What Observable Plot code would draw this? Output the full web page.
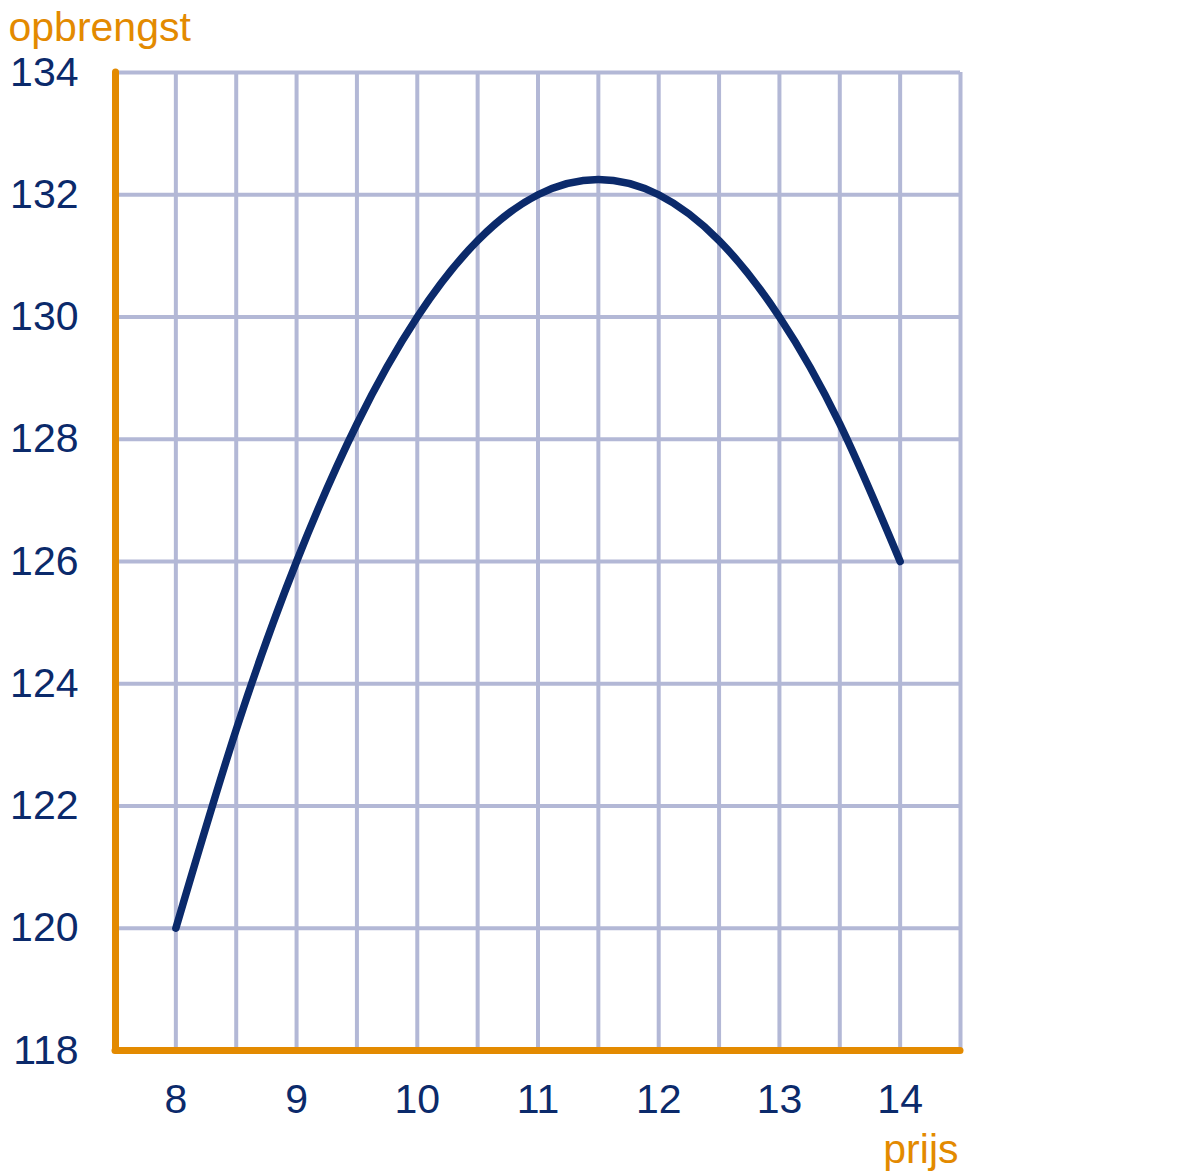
<!DOCTYPE html>
<html>
<head>
<meta charset="utf-8">
<script src="https://cdn.jsdelivr.net/npm/d3@7"></script>
<script src="https://cdn.jsdelivr.net/npm/@observablehq/plot@0.6"></script>
<style>
  html, body { margin: 0; padding: 0; background: white; }
</style>
</head>
<body>
<div id="chart"></div>
<script>
// Price (prijs) and revenue (opbrengst)
const prijs = [8, 8.5, 9, 9.5, 10, 10.5, 11, 11.5, 12, 12.5, 13, 13.5, 14];
const opbrengst = [120, 123.25, 126, 128.25, 130, 131.25, 132, 132.25, 132, 131.25, 130, 128.25, 126];
const xTicks = [8, 9, 10, 11, 12, 13, 14];
const yTicks = [118, 120, 122, 124, 126, 128, 130, 132, 134];
const xGrid = [8, 8.5, 9, 9.5, 10, 10.5, 11, 11.5, 12, 12.5, 13, 13.5, 14, 14.5];
const yGrid = [120, 122, 124, 126, 128, 130, 132, 134];
const xLabel = "prijs";
const yLabel = "opbrengst";

const data = prijs.map((p, i) => ({prijs: p, opbrengst: opbrengst[i]}));

const navy = "#0b2a6b";
const orange = "#e38a00";
const gridColor = "#b3b8d6";
const fs = 41;

const chart = Plot.plot({
  width: 1184,
  height: 1172,
  marginLeft: 115,
  marginRight: 224,
  marginTop: 72,
  marginBottom: 122,
  style: {fontFamily: "'Liberation Sans', Arial, sans-serif", fontSize: fs + "px", color: navy, background: "white", overflow: "visible"},
  x: {domain: [7.5, 14.5]},
  y: {domain: [118, 134]},
  marks: [
    Plot.ruleX(xGrid, {stroke: gridColor, strokeWidth: 4, y1: 118, y2: 134}),
    Plot.ruleY(yGrid, {stroke: gridColor, strokeWidth: 4, x1: 7.5, x2: 14.5}),
    Plot.axisX(xTicks, {tickSize: 0, tickPadding: 33, fontSize: fs, tickFormat: "d", label: null}),
    Plot.axisY(yTicks, {tickSize: 0, tickPadding: 37, fontSize: fs, tickFormat: "d", label: null}),
    Plot.ruleX([7.5], {y1: 118, y2: 134, stroke: orange, strokeWidth: 7, strokeLinecap: "round"}),
    Plot.ruleY([118], {x1: 7.5, x2: 14.5, stroke: orange, strokeWidth: 7, strokeLinecap: "round"}),
    Plot.line(data, {x: "prijs", y: "opbrengst", curve: "natural", stroke: navy, strokeWidth: 7.5, strokeLinecap: "round", strokeLinejoin: "round"}),
    Plot.text([yLabel], {frameAnchor: "top-left", text: d => d, dx: -107, dy: -32, lineAnchor: "bottom", textAnchor: "start", fill: orange, fontSize: fs}),
    Plot.text([xLabel], {frameAnchor: "bottom-right", text: d => d, dx: -2, dy: 112, lineAnchor: "bottom", textAnchor: "end", fill: orange, fontSize: fs})
  ]
});
document.getElementById("chart").appendChild(chart);
</script>
</body>
</html>
